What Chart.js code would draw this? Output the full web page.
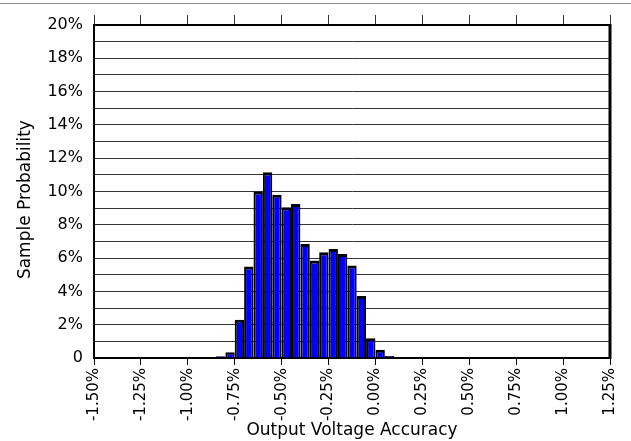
<!DOCTYPE html>
<html>
<head>
<meta charset="utf-8">
<script src="https://cdn.jsdelivr.net/npm/chart.js@4.4.1/dist/chart.umd.min.js"></script>
<style>
    html, body { margin: 0; padding: 0; background: #fff; }
    #accuracyChart { display: block; }
</style>
</head>
<body>
<canvas id="accuracyChart" width="631" height="441"></canvas>
<script>
// Histogram bins: left edge of each 0.05 % wide bin
const binStart = [-0.85, -0.80, -0.75, -0.70, -0.65, -0.60, -0.55, -0.50, -0.45, -0.40,
                  -0.35, -0.30, -0.25, -0.20, -0.15, -0.10, -0.05, 0.00, 0.05];
const binWidth = 0.05;
// Sample probability of each bin, in %
const probability = [0.1, 0.35, 2.3, 5.5, 10.0, 11.15, 9.8, 9.05, 9.25, 6.85,
                     5.85, 6.35, 6.55, 6.25, 5.55, 3.72, 1.18, 0.5, 0.12];
// Axis ranges
const xRange = [-1.5, 1.25];
const xStep = 0.25;
const yRange = [0, 20];
const yLabelEvery = 2;

const fontFamily = 'DejaVu Sans';

// Thin rule above the plot, plus the top/right edges of the plot frame
const framePlugin = {
    id: 'frame',
    beforeDraw(chart) {
        const ctx = chart.ctx;
        ctx.save();
        ctx.fillStyle = '#8c8c8c';
        ctx.fillRect(0, 3, chart.width, 1);
        ctx.restore();
    },
    afterDatasetsDraw(chart) {
        const { ctx, chartArea: a } = chart;
        ctx.save();
        ctx.strokeStyle = '#000';
        ctx.lineWidth = 2;
        ctx.beginPath();
        ctx.moveTo(a.left - 1, a.top);
        ctx.lineTo(a.right, a.top);
        ctx.stroke();
        ctx.lineWidth = 3;
        ctx.beginPath();
        ctx.moveTo(a.right, a.top - 1);
        ctx.lineTo(a.right, a.bottom + 1);
        ctx.stroke();
        ctx.restore();
    }
};

const ctx = document.getElementById('accuracyChart');
const accuracyChart = new Chart(ctx, {
    type: 'bar',
    data: {
        datasets: [{
            label: 'Sample Probability',
            data: binStart.map((s, i) => ({ x: s + binWidth / 2, y: probability[i] })),
            backgroundColor: '#0000ff',
            borderColor: '#000',
            borderWidth: { top: 3, left: 2, right: 2, bottom: 0 },
            borderSkipped: 'start',
            barPercentage: 1,
            categoryPercentage: 1,
            inflateAmount: 0
        }]
    },
    options: {
        responsive: false,
        animation: false,
        devicePixelRatio: 1,
        layout: { padding: { left: 0, top: 0, right: 18, bottom: 0 } },
        plugins: {
            legend: { display: false },
            tooltip: { enabled: false }
        },
        scales: {
            x: {
                type: 'linear',
                position: 'bottom',
                min: xRange[0],
                max: xRange[1],
                offset: false,
                z: 1,
                grid: { drawOnChartArea: false, offset: false, tickLength: 7, color: '#000', lineWidth: 1 },
                border: { display: true, color: '#000', width: 2 },
                ticks: {
                    stepSize: xStep,
                    maxTicksLimit: 20,
                    autoSkip: false,
                    minRotation: 90,
                    maxRotation: 90,
                    padding: 3,
                    color: '#000',
                    font: { family: fontFamily, size: 15 },
                    callback: v => v.toFixed(2) + '%'
                },
                title: {
                    display: true,
                    text: 'Output Voltage Accuracy',
                    color: '#000',
                    font: { family: fontFamily, size: 17 },
                    padding: { top: 0, bottom: 0 }
                },
                afterFit: s => { s.height = 83; }
            },
            xTop: {
                type: 'linear',
                position: 'top',
                min: xRange[0],
                max: xRange[1],
                offset: false,
                grid: { drawOnChartArea: false, offset: false, tickLength: 10, color: '#333', lineWidth: 1 },
                border: { display: false },
                ticks: { display: false, stepSize: xStep, maxTicksLimit: 20 },
                afterFit: s => { s.height = 25; }
            },
            y: {
                min: yRange[0],
                max: yRange[1],
                grid: { color: '#333', lineWidth: 1, drawTicks: false },
                border: { display: true, color: '#000', width: 2 },
                ticks: {
                    stepSize: 1,
                    maxTicksLimit: 25,
                    autoSkip: false,
                    padding: 11,
                    color: '#000',
                    font: { family: fontFamily, size: 16 },
                    callback: v => v === 0 ? '0' : (v % yLabelEvery === 0 ? v + '%' : '')
                },
                title: {
                    display: true,
                    // trailing spaces nudge the rotated title a little lower
                    text: 'Sample Probability   ',
                    color: '#000',
                    font: { family: fontFamily, size: 17 },
                    padding: { top: 15, bottom: 0 }
                },
                afterFit: s => { s.width = 94; }
            }
        }
    },
    plugins: [framePlugin]
});
</script>
</body>
</html>
